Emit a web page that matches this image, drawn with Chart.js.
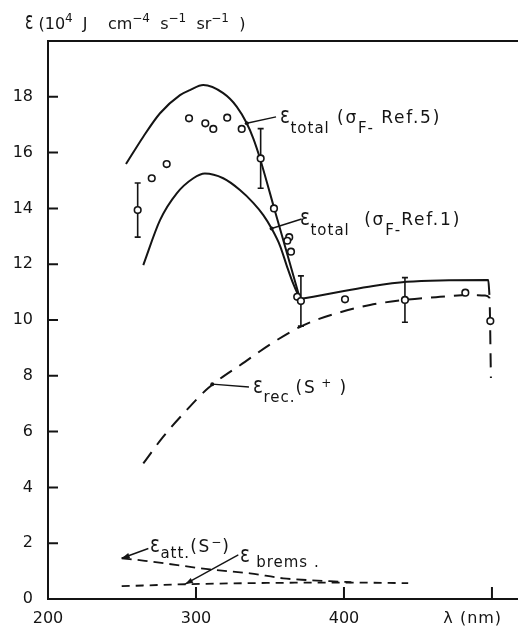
<!DOCTYPE html>
<html>
<head>
<meta charset="utf-8">
<script src="https://cdn.jsdelivr.net/npm/chart.js@4/dist/chart.umd.min.js"></script>
<style>
  html, body { margin: 0; padding: 0; background: #fff; }
  canvas { display: block; }
</style>
</head>
<body>
<canvas id="c" width="518" height="628"></canvas>
<script>
// Emission coefficient ε (10^4 J cm^-4 s^-1 sr^-1) against wavelength λ (nm)

// ε_total with σ_F from Ref. 5 (rising branch up to the junction)
const totalRef5Lambda = [252.7, 264.4, 275.7, 289.2, 295.9, 304.9, 318.4, 327.5, 334.3, 338.7, 343.2, 353.4, 361.8, 370.3];
const totalRef5Eps    = [15.59, 16.57, 17.41, 18.06, 18.24, 18.42, 18.13, 17.65, 17.05, 16.51, 15.80, 13.90, 12.34, 10.75];

// ε_total with σ_F from Ref. 1
const totalRef1Lambda = [264.4, 275.7, 287.0, 298.2, 306.0, 318.4, 329.7, 338.7, 345.5, 351.1, 356.8, 361.3, 365.7, 370.3];
const totalRef1Eps    = [11.97, 13.58, 14.54, 15.08, 15.25, 15.08, 14.66, 14.20, 13.76, 13.28, 12.66, 11.95, 11.30, 10.75];

// common long-wavelength part of both totals, with the cut-off edge
const totalTailLambda = [370.3, 397.3, 419.8, 442.4, 464.9, 497.5, 498.3];
const totalTailEps    = [10.75, 11.01, 11.22, 11.37, 11.42, 11.43, 10.90];

// ε_rec (S+)
const recLambda = [264.4, 277.9, 293.7, 308.3, 333.1, 351.1, 372.5, 395.1, 417.6, 441.2, 464.9, 485.1, 495.3, 498.3, 499.3];
const recEps    = [4.86, 5.82, 6.77, 7.56, 8.50, 9.16, 9.81, 10.24, 10.54, 10.72, 10.83, 10.90, 10.88, 10.80, 7.92];

// ε_att (S-)
const attLambda = [249.8, 265.5, 309.5, 336.5, 359.0, 374.8, 397.3, 405.0];
const attEps    = [1.46, 1.37, 1.06, 0.92, 0.74, 0.68, 0.62, 0.60];

// ε_brems
const bremsLambda = [249.8, 293.7, 340.0, 397.3, 443.4];
const bremsEps    = [0.46, 0.53, 0.57, 0.59, 0.57];

// measured values and their error half-widths (0 = no bar)
const obsLambda = [260.6, 270.1, 280.2, 295.3, 306.3, 311.7, 321.1, 330.9, 343.7, 352.7, 363.0, 361.7, 364.2, 368.4, 370.9, 400.7, 441.2, 482.0, 498.9];
const obsEps    = [13.94, 15.08, 15.59, 17.23, 17.05, 16.85, 17.25, 16.85, 15.79, 14.00, 12.97, 12.84, 12.45, 10.83, 10.68, 10.74, 10.72, 10.98, 9.96];
const obsErr    = [0.97, 0, 0, 0, 0, 0, 0, 0, 1.07, 0, 0, 0, 0, 0, 0.90, 0, 0.80, 0, 0];

// axis ticks
const xTicks = [200, 300, 400, 500];
const xTickLabels = ['200', '300', '400', ''];
const yTicks = [0, 2, 4, 6, 8, 10, 12, 14, 16, 18];
const yTickLabels = ['0', '2', '4', '6', '8', '10', '12', '14', '16', '18'];

const INK = '#141414';
const FONT = '"DejaVu Sans", "Liberation Sans", sans-serif';

const pts = (xs, ys) => xs.map((x, i) => ({ x, y: ys[i] }));

// curve labels: anchor in data units, leader from -> to, rich-text parts
const curveLabels = [
  { at: [356.8, 17.06], subDy: 10, lead: [[334.3, 17.05], [354.1, 17.28]], tip: 'dot',
    parts: [['ε', 'eps'], ['total', 'sub'], [' (σ', 'n'], ['F-', 'sub'], [' Ref.5)', 'n']] },
  { at: [370.3, 13.41], subDy: 10, lead: [[351.1, 13.28], [371.4, 13.62]], tip: 'dot',
    parts: [['ε', 'eps'], ['total', 'sub'], ['  (σ', 'n'], ['F-', 'sub'], ['Ref.1)', 'n']] },
  { at: [338.5, 7.38], subDy: 9, lead: [[311.0, 7.70], [335.8, 7.60]], tip: 'dot',
    parts: [['ε', 'eps'], ['rec.', 'sub'], ['(S', 'n'], [' +', 'sup'], [' )', 'n']] },
  { at: [268.9, 1.68], subDy: 6, lead: [[249.8, 1.46], [267.8, 1.81]], tip: 'arrow',
    parts: [['ε', 'eps'], ['att.', 'sub'], ['(S', 'n'], ['−', 'sup'], [')', 'n']] },
  { at: [329.7, 1.33], subDy: 5, lead: [[292.6, 0.53], [328.6, 1.58]], tip: 'arrow',
    parts: [['ε', 'eps'], [' brems .', 'sub']] }
];

// draws a run of normal / subscript / superscript pieces; ε is drawn tall and narrow
function richText(ctx, x, y, parts, o) {
  let cx = x;
  for (const [txt, kind] of parts) {
    if (kind === 'eps') {
      ctx.font = o.eps + 'px ' + FONT;
      ctx.letterSpacing = '0px';
      ctx.save();
      ctx.translate(cx, y);
      ctx.scale(o.epsSx, 1);
      ctx.fillText(txt, 0, 0);
      ctx.restore();
      cx += ctx.measureText(txt).width * o.epsSx + o.epsGap;
      continue;
    }
    const size = kind === 'n' ? o.n : (kind === 'sub' ? o.sub : o.sup);
    const dy = kind === 'sub' ? o.subDy : (kind === 'sup' ? -o.supDy : 0);
    ctx.font = size + 'px ' + FONT;
    ctx.letterSpacing = (kind === 'n' ? o.lsN : o.lsS) + 'px';
    ctx.fillText(txt, cx, y + dy);
    cx += ctx.measureText(txt).width;
  }
  ctx.letterSpacing = '0px';
  return cx;
}

const decor = {
  id: 'decor',
  beforeDatasetsDraw(chart) {
    // error bars under the open circles
    const { ctx, scales: { x, y } } = chart;
    ctx.save();
    ctx.strokeStyle = INK;
    ctx.lineWidth = 1.6;
    obsLambda.forEach((l, i) => {
      if (!obsErr[i]) return;
      const px = x.getPixelForValue(l);
      const top = y.getPixelForValue(obsEps[i] + obsErr[i]);
      const bot = y.getPixelForValue(obsEps[i] - obsErr[i]);
      ctx.beginPath();
      ctx.moveTo(px, top); ctx.lineTo(px, bot);
      ctx.moveTo(px - 3, top); ctx.lineTo(px + 3, top);
      ctx.moveTo(px - 3, bot); ctx.lineTo(px + 3, bot);
      ctx.stroke();
    });
    ctx.restore();
  },
  afterDraw(chart) {
    const { ctx, chartArea: a, scales: { x, y } } = chart;
    ctx.save();
    ctx.strokeStyle = INK;
    ctx.fillStyle = INK;
    ctx.lineWidth = 2;

    // frame top and inward tick marks
    ctx.beginPath();
    ctx.moveTo(a.left, a.top); ctx.lineTo(a.right, a.top);
    yTicks.filter(v => v > 0).forEach(v => {
      const py = y.getPixelForValue(v);
      ctx.moveTo(a.left, py); ctx.lineTo(a.left + 10, py);
    });
    xTicks.filter(v => v > 200).forEach(v => {
      const px = x.getPixelForValue(v);
      ctx.moveTo(px, a.bottom); ctx.lineTo(px, a.bottom - 12);
    });
    ctx.stroke();

    ctx.textBaseline = 'alphabetic';
    ctx.textAlign = 'left';

    // y-axis quantity and unit
    richText(ctx, a.left - 23, a.top - 12,
      [['ε', 'eps'], [' (10', 'n'], ['4', 'sup'], ['  J    cm', 'n'], ['−4', 'sup'], ['  s', 'n'], ['−1', 'sup'],
       ['  sr', 'n'], ['−1', 'sup'], ['  )', 'n']],
      { n: 16, sub: 12, sup: 12, subDy: 5, supDy: 7, lsN: 0, lsS: 0, eps: 25, epsSx: 0.62, epsGap: 0 });

    // x-axis quantity
    ctx.font = '16px ' + FONT;
    ctx.letterSpacing = '1px';
    ctx.textAlign = 'center';
    ctx.fillText('λ (nm)', x.getPixelForValue(487), a.bottom + 24);
    ctx.letterSpacing = '0px';
    ctx.textAlign = 'left';

    // curve labels with leaders
    ctx.lineWidth = 1.4;
    curveLabels.forEach(c => {
      const [p0, p1] = c.lead;
      const x0 = x.getPixelForValue(p0[0]), y0 = y.getPixelForValue(p0[1]);
      const x1 = x.getPixelForValue(p1[0]), y1 = y.getPixelForValue(p1[1]);
      ctx.beginPath();
      ctx.moveTo(x0, y0); ctx.lineTo(x1, y1);
      ctx.stroke();
      if (c.tip === 'dot') {
        ctx.beginPath();
        ctx.arc(x0, y0, 2, 0, Math.PI * 2);
        ctx.fill();
      } else {
        const ang = Math.atan2(y0 - y1, x0 - x1);
        const len = 8, half = 2.8;
        ctx.beginPath();
        ctx.moveTo(x0, y0);
        ctx.lineTo(x0 - len * Math.cos(ang) + half * Math.sin(ang), y0 - len * Math.sin(ang) - half * Math.cos(ang));
        ctx.lineTo(x0 - len * Math.cos(ang) - half * Math.sin(ang), y0 - len * Math.sin(ang) + half * Math.cos(ang));
        ctx.closePath();
        ctx.fill();
      }
      richText(ctx, x.getPixelForValue(c.at[0]), y.getPixelForValue(c.at[1]), c.parts,
        { n: 17, sub: 15, sup: 12, subDy: c.subDy, supDy: 6, lsN: 1.8, lsS: 1,
          eps: 23, epsSx: 0.8, epsGap: 0.5 });
    });
    ctx.restore();
  }
};

const line = (data, extra) => Object.assign({
  data, showLine: true, borderColor: INK, borderWidth: 2, pointRadius: 0,
  cubicInterpolationMode: 'monotone', fill: false
}, extra);

new Chart(document.getElementById('c'), {
  type: 'scatter',
  data: {
    datasets: [
      { label: 'measured', data: pts(obsLambda, obsEps), showLine: false,
        pointRadius: 3.3, pointBorderWidth: 1.6, pointBackgroundColor: '#fff',
        pointBorderColor: INK, pointHoverRadius: 3.3 },
      line(pts(totalRef5Lambda, totalRef5Eps), { label: 'ε total (σF Ref.5)' }),
      line(pts(totalRef1Lambda, totalRef1Eps), { label: 'ε total (σF Ref.1)' }),
      line(pts(totalTailLambda, totalTailEps), { label: 'ε total' }),
      line(pts(recLambda, recEps), { label: 'ε rec. (S+)', borderDash: [14, 9] }),
      line(pts(attLambda, attEps), { label: 'ε att. (S-)', borderDash: [10, 6], borderWidth: 1.8 }),
      line(pts(bremsLambda, bremsEps), { label: 'ε brems.', borderDash: [8, 6], borderWidth: 1.8 })
    ]
  },
  options: {
    responsive: false,
    animation: false,
    devicePixelRatio: 1,
    layout: { autoPadding: false, padding: { top: 41, left: 0, right: 0, bottom: 0 } },
    plugins: { legend: { display: false }, tooltip: { enabled: false } },
    scales: {
      x: {
        type: 'linear', min: 200, max: 517.6,
        afterBuildTicks: s => { s.ticks = xTicks.map(v => ({ value: v })); },
        afterFit: s => { s.height = 29; s.paddingLeft = 0; s.paddingRight = 0; },
        grid: { display: false, drawTicks: false },
        border: { display: true, width: 2, color: INK },
        ticks: {
          color: INK, padding: 10, autoSkip: false, maxRotation: 0,
          font: { family: 'DejaVu Sans', size: 16 },
          callback: v => { const i = xTicks.indexOf(v); return i < 0 ? '' : xTickLabels[i]; }
        }
      },
      y: {
        type: 'linear', min: 0, max: 20,
        afterBuildTicks: s => { s.ticks = yTicks.map(v => ({ value: v })); },
        afterFit: s => { s.width = 48; },
        grid: { display: false, drawTicks: false },
        border: { display: true, width: 2, color: INK },
        ticks: {
          color: INK, padding: 15, autoSkip: false,
          font: { family: 'DejaVu Sans', size: 16 },
          callback: v => { const i = yTicks.indexOf(v); return i < 0 ? '' : yTickLabels[i]; }
        }
      }
    }
  },
  plugins: [decor]
});
</script>
</body>
</html>
